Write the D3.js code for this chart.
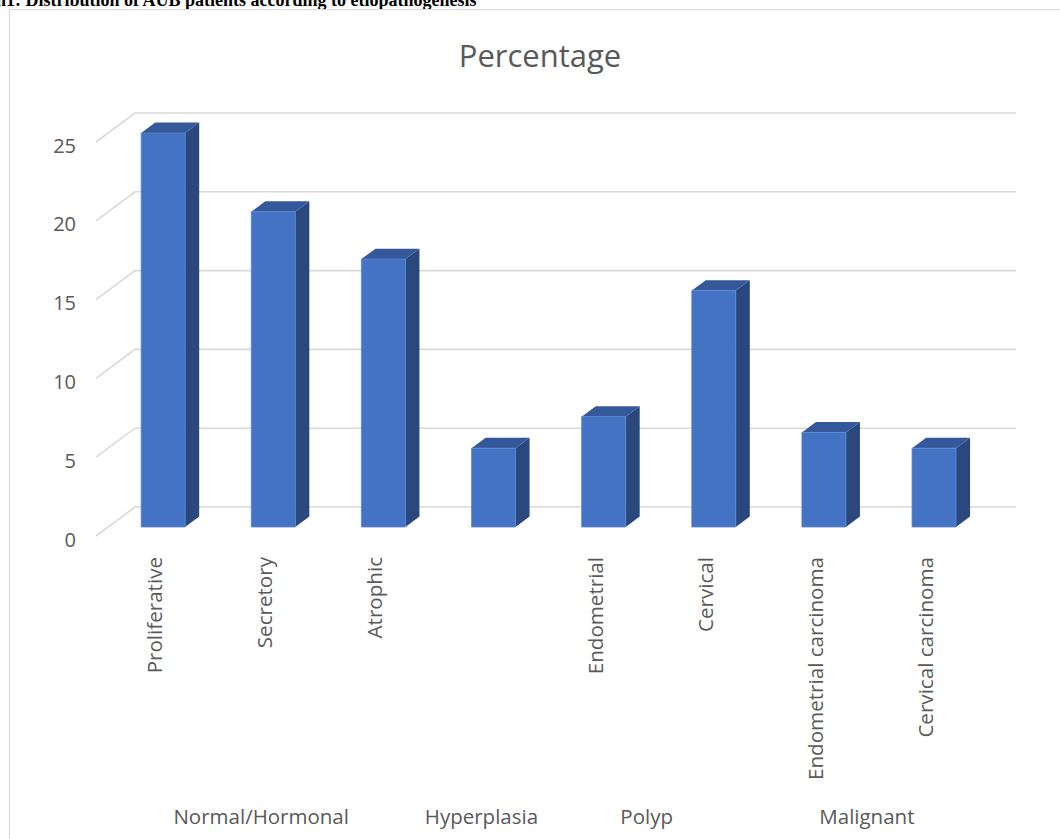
<!DOCTYPE html>
<html>
<head>
<meta charset="utf-8">
<script src="https://cdn.jsdelivr.net/npm/d3@7"></script>
<style>
  html, body { margin: 0; padding: 0; background: #fff; }
  svg { display: block; }
</style>
</head>
<body>
<svg id="chart" width="1060" height="839"></svg>
<script>
// Distribution of AUB patients by etiopathogenesis (percentage)
const categories = ["Proliferative", "Secretory", "Atrophic", "", "Endometrial", "Cervical",
                    "Endometrial carcinoma", "Cervical carcinoma"];
const values = [25, 20, 17, 5, 7, 15, 6, 5];
const groups = ["Normal/Hormonal", "Hyperplasia", "Polyp", "Malignant"];
const groupSpans = [[0, 2], [3, 3], [4, 5], [6, 7]];
const yTicks = [0, 5, 10, 15, 20, 25];
const chartTitle = "Percentage";
const captionText = "n1: Distribution of AUB patients according to etiopathogenesis";

const svg = d3.select("#chart");
const textColor = "#595959";
const gridColor = "#d9d9d9";
const font = "'Open Sans', 'Noto Sans', sans-serif";

// Back wall of the 3-D plot and the floor depth vector (back -> front)
const wallLeft = 135, wallRight = 1016;
const depth = { dx: -39, dy: 29 };

const y = d3.scaleLinear().domain([0, 25]).range([507, 113]);
const x = d3.scaleBand().domain(d3.range(categories.length)).range([wallLeft, wallRight]).padding(0);

// Project a point on the back wall (xb, value) forward by a depth fraction t
function P(xb, v, t) {
  return [xb + depth.dx * t, y(v) + depth.dy * t];
}

// Caption above the chart frame (partly cut by the page edge)
svg.append("text")
  .attr("x", -4).attr("y", 6)
  .attr("font-family", "'Liberation Serif', 'Times New Roman', serif")
  .attr("font-weight", "bold")
  .attr("font-size", 18)
  .attr("fill", "#000")
  .text(captionText);

// Chart frame
svg.append("path")
  .attr("d", "M9.5,845 L9.5,9.5 L1070,9.5")
  .attr("fill", "none")
  .attr("stroke", gridColor)
  .attr("stroke-width", 1.2);

// Title
svg.append("text")
  .attr("x", 540).attr("y", 67)
  .attr("text-anchor", "middle")
  .attr("font-family", font)
  .attr("font-size", 31)
  .attr("fill", textColor)
  .text(chartTitle);

// Gridlines: side-wall diagonals and back-wall horizontals
const grid = svg.append("g").attr("stroke", gridColor).attr("stroke-width", 1.6).attr("fill", "none");
yTicks.forEach(v => {
  const front = P(wallLeft, v, 1);
  grid.append("path")
    .attr("d", `M${front[0]},${front[1]} L${wallLeft},${y(v)} L${wallRight},${y(v)}`);
});

// Y tick labels at the front edge of the side wall
svg.append("g").selectAll("text")
  .data(yTicks)
  .join("text")
  .attr("x", 76)
  .attr("y", d => P(wallLeft, d, 1)[1] + 3)
  .attr("text-anchor", "end")
  .attr("dominant-baseline", "central")
  .attr("font-family", font)
  .attr("font-size", 20)
  .attr("fill", textColor)
  .text(d => d);

// 3-D bars
const halfW = 22, t0 = 0.33, t1 = 0.69;
const poly = pts => "M" + pts.map(p => p.join(",")).join("L") + "Z";
const bars = svg.append("g").selectAll("g")
  .data(values.map((v, i) => ({ v, i })))
  .join("g");

bars.each(function (d) {
  const g = d3.select(this);
  const xc = x(d.i) + x.bandwidth() / 2;
  const L = xc - halfW, R = xc + halfW;
  // side face
  g.append("path")
    .attr("d", poly([P(R, 0, t1), P(R, d.v, t1), P(R, d.v, t0), P(R, 0, t0)]))
    .attr("fill", "#2b487e");
  // top face
  g.append("path")
    .attr("d", poly([P(L, d.v, t1), P(R, d.v, t1), P(R, d.v, t0), P(L, d.v, t0)]))
    .attr("fill", "#35589b");
  // front face
  g.append("path")
    .attr("d", poly([P(L, 0, t1), P(L, d.v, t1), P(R, d.v, t1), P(R, 0, t1)]))
    .attr("fill", "#4472c4")
    .attr("stroke", "#5b86d0")
    .attr("stroke-width", 0.8);
});

// Rotated category labels at the front of the floor
svg.append("g").selectAll("text")
  .data(categories.map((c, i) => ({ c, i })).filter(d => d.c))
  .join("text")
  .attr("transform", d => {
    const xf = P(x(d.i) + x.bandwidth() / 2, 0, 1)[0] + 11;
    return `translate(${xf},557) rotate(-90)`;
  })
  .attr("text-anchor", "end")
  .attr("font-family", font)
  .attr("font-size", 20.6)
  .attr("fill", textColor)
  .text(d => d.c);

// Group labels below the category labels
svg.append("g").selectAll("text")
  .data(groups.map((g, k) => ({ g, span: groupSpans[k] })))
  .join("text")
  .attr("x", d => {
    const a = x(d.span[0]), b = x(d.span[1]) + x.bandwidth();
    return P((a + b) / 2, 0, 1)[0];
  })
  .attr("y", 824)
  .attr("text-anchor", "middle")
  .attr("font-family", font)
  .attr("font-size", 20.5)
  .attr("fill", textColor)
  .text(d => d.g);
</script>
</body>
</html>
